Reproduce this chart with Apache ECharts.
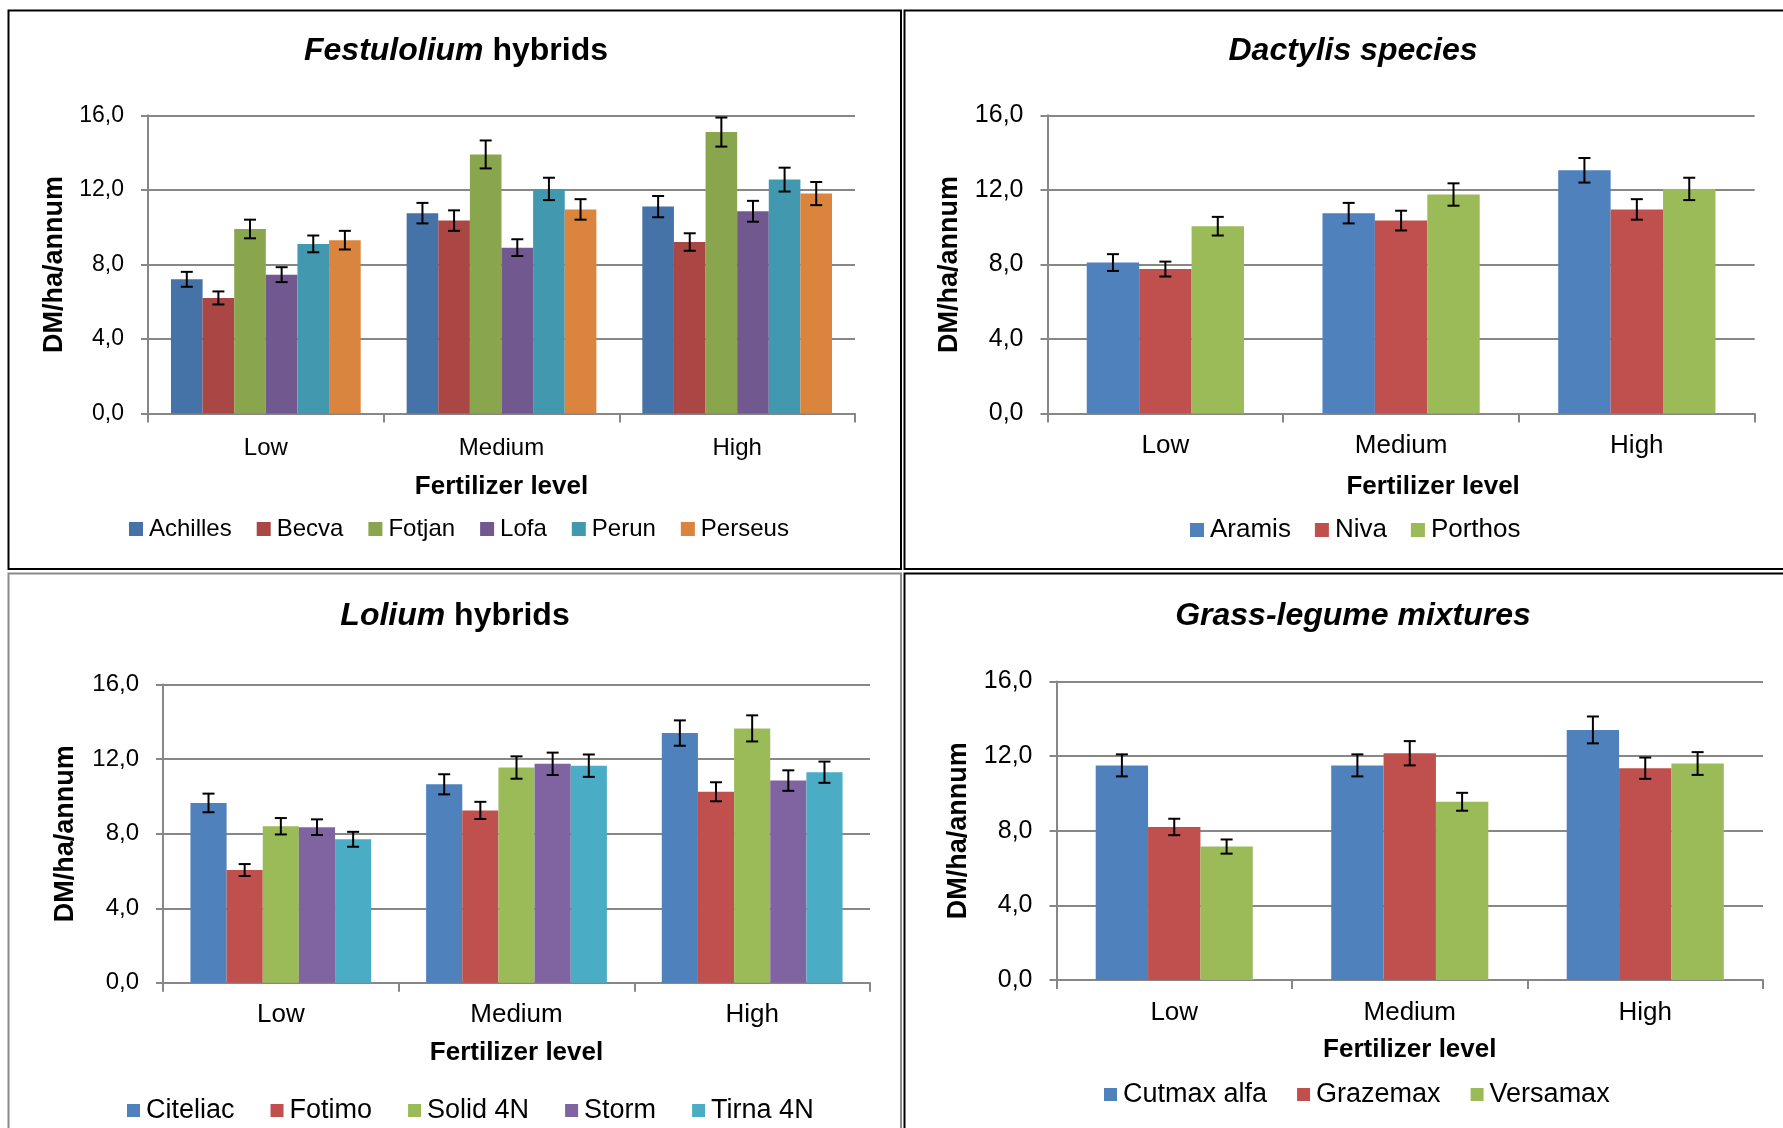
<!DOCTYPE html>
<html>
<head>
<meta charset="utf-8">
<script src="https://cdn.jsdelivr.net/npm/echarts@6/dist/echarts.min.js"></script>
<style>
html,body{margin:0;padding:0;background:#fff;}
#c{width:1783px;height:1128px;}
</style>
</head>
<body>
<div id="c"></div>
<script>
// ---------- DATA ----------
const categories = ['Low', 'Medium', 'High'];
const yTickLabels = ['0,0', '4,0', '8,0', '12,0', '16,0'];

// Festulolium hybrids
const festNames = ['Achilles', 'Becva', 'Fotjan', 'Lofa', 'Perun', 'Perseus'];
const achilles = [7.2, 10.75, 11.1];
const becva = [6.2, 10.35, 9.2];
const fotjan = [9.9, 13.9, 15.1];
const lofa = [7.45, 8.9, 10.85];
const perun = [9.1, 12.05, 12.55];
const perseus = [9.3, 10.95, 11.8];
const achillesErr = [0.4, 0.55, 0.57];
const becvaErr = [0.35, 0.55, 0.47];
const fotjanErr = [0.5, 0.75, 0.78];
const lofaErr = [0.4, 0.45, 0.56];
const perunErr = [0.45, 0.6, 0.64];
const perseusErr = [0.5, 0.55, 0.62];

// Dactylis species
const dactNames = ['Aramis', 'Niva', 'Porthos'];
const aramis = [8.1, 10.75, 13.05];
const niva = [7.75, 10.35, 10.95];
const porthos = [10.05, 11.75, 12.05];
const aramisErr = [0.45, 0.55, 0.66];
const nivaErr = [0.4, 0.53, 0.55];
const porthosErr = [0.5, 0.6, 0.6];

// Lolium hybrids
const lolNames = ['Citeliac', 'Fotimo', 'Solid 4N', 'Storm', 'Tirna 4N'];
const citeliac = [9.65, 10.65, 13.4];
const fotimo = [6.05, 9.25, 10.25];
const solid4n = [8.4, 11.55, 13.65];
const storm = [8.35, 11.75, 10.85];
const tirna4n = [7.7, 11.65, 11.3];
const citeliacErr = [0.5, 0.54, 0.68];
const fotimoErr = [0.32, 0.46, 0.51];
const solid4nErr = [0.44, 0.6, 0.7];
const stormErr = [0.42, 0.6, 0.55];
const tirna4nErr = [0.4, 0.6, 0.57];

// Grass-legume mixtures
const mixNames = ['Cutmax alfa', 'Grazemax', 'Versamax'];
const cutmax = [11.5, 11.5, 13.4];
const grazemax = [8.2, 12.15, 11.35];
const versamax = [7.15, 9.55, 11.6];
const cutmaxErr = [0.59, 0.59, 0.72];
const grazemaxErr = [0.44, 0.65, 0.57];
const versamaxErr = [0.38, 0.48, 0.61];

// ---------- STYLE ----------
const FONT = '"Liberation Sans", Arial, sans-serif';
const GRID_COLOR = '#878787';
const pal1 = ['#4572A7', '#AA4643', '#89A54E', '#71588F', '#4198AF', '#DB843D'];
const pal2 = ['#4F81BD', '#C0504D', '#9BBB59', '#8064A2', '#4BACC6'];

const panels = [
  { title: '{i|Festulolium} hybrids', names: festNames,
    values: [achilles, becva, fotjan, lofa, perun, perseus],
    errs: [achillesErr, becvaErr, fotjanErr, lofaErr, perunErr, perseusErr],
    colors: pal1, gap: 0.195,
    grid: { left: 148, top: 115.3, width: 707, height: 298.2 },
    titleX: 451, titleTop: 30, titleSize: 32, labelSize: 24, labelMargin: 23, nameGap: 60, namePad: 0,
    tickSize: 23, yNameGap: 80,
    legend: { left: 129, top: 517, gap: 25, size: 24, icon: 14 } },
  { title: '{i|Dactylis species}', names: dactNames,
    values: [aramis, niva, porthos],
    errs: [aramisErr, nivaErr, porthosErr],
    colors: pal2, gap: 0.333,
    grid: { left: 1047.5, top: 115.3, width: 707.2, height: 298.2 },
    titleX: 1348, titleTop: 30, titleSize: 32, labelSize: 26, labelMargin: 19, nameGap: 60, namePad: 64,
    tickSize: 25, yNameGap: 84,
    legend: { left: 1190, top: 517, gap: 24, size: 26, icon: 14 } },
  { title: '{i|Lolium} hybrids', names: lolNames,
    values: [citeliac, fotimo, solid4n, storm, tirna4n],
    errs: [citeliacErr, fotimoErr, solid4nErr, stormErr, tirna4nErr],
    colors: pal2, gap: 0.233,
    grid: { left: 163, top: 684.6, width: 707, height: 298.2 },
    titleX: 450, titleTop: 595, titleSize: 32, labelSize: 26, labelMargin: 19, nameGap: 57, namePad: 0,
    tickSize: 24, yNameGap: 84,
    legend: { left: 127, top: 1097, gap: 36, size: 27, icon: 13 } },
  { title: '{i|Grass-legume mixtures}', names: mixNames,
    values: [cutmax, grazemax, versamax],
    errs: [cutmaxErr, grazemaxErr, versamaxErr],
    colors: pal2, gap: 0.333,
    grid: { left: 1056.5, top: 681.4, width: 706.5, height: 298.6 },
    titleX: 1348, titleTop: 595, titleSize: 32, labelSize: 26, labelMargin: 20, nameGap: 57, namePad: 0,
    tickSize: 25, yNameGap: 84,
    legend: { left: 1104, top: 1081, gap: 30, size: 27, icon: 13 } }
];

function errRenderer(i, n, gap) {
  return function (params, api) {
    const idx = api.value(0), v = api.value(1), e = api.value(2);
    const c = api.coord([idx, v]);
    const catW = api.size([1, 0])[0];
    const inner = catW * (1 - gap);
    const bw = inner / n;
    const x = c[0] - inner / 2 + (i + 0.5) * bw;
    const yt = api.coord([idx, v + e])[1];
    const yb = api.coord([idx, v - e])[1];
    const hw = 6;
    const st = { stroke: '#000', lineWidth: 2 };
    return { type: 'group', children: [
      { type: 'line', shape: { x1: x, y1: yt, x2: x, y2: yb }, style: st },
      { type: 'line', shape: { x1: x - hw, y1: yt, x2: x + hw, y2: yt }, style: st },
      { type: 'line', shape: { x1: x - hw, y1: yb, x2: x + hw, y2: yb }, style: st }
    ] };
  };
}

const option = {
  backgroundColor: '#fff',
  animation: false,
  title: [], grid: [], xAxis: [], yAxis: [], legend: [], series: [],
  graphic: [
    { type: 'rect', shape: { x: 8.5, y: 10.5, width: 892.5, height: 558.5 }, style: { fill: 'none', stroke: '#000', lineWidth: 2 } },
    { type: 'rect', shape: { x: 904.5, y: 10.5, width: 900, height: 558.5 }, style: { fill: 'none', stroke: '#000', lineWidth: 2 } },
    { type: 'rect', shape: { x: 8.5, y: 573.5, width: 892.5, height: 600 }, style: { fill: 'none', stroke: '#8a8a8a', lineWidth: 2 } },
    { type: 'rect', shape: { x: 904.5, y: 573.5, width: 900, height: 600 }, style: { fill: 'none', stroke: '#000', lineWidth: 2 } }
  ]
};

panels.forEach((p, g) => {
  option.title.push({
    text: p.title, left: p.titleX, top: p.titleTop, textAlign: 'center',
    textStyle: { fontFamily: FONT, fontSize: p.titleSize, fontWeight: 'bold', color: '#000',
      rich: { i: { fontFamily: FONT, fontSize: p.titleSize, fontWeight: 'bold', fontStyle: 'italic', color: '#000' } } }
  });
  option.grid.push(Object.assign({ containLabel: false }, p.grid));
  option.xAxis.push({
    type: 'category', gridIndex: g, data: categories,
    name: 'Fertilizer level', nameLocation: 'middle', nameGap: p.nameGap,
    nameTextStyle: { fontFamily: FONT, fontSize: 26, fontWeight: 'bold', color: '#000', padding: [0, 0, 0, p.namePad] },
    axisLine: { lineStyle: { color: GRID_COLOR, width: 2 } },
    axisTick: { show: true, length: 9, lineStyle: { color: GRID_COLOR, width: 2 } },
    axisLabel: { fontFamily: FONT, fontSize: p.labelSize, color: '#000', margin: p.labelMargin },
    splitLine: { show: false }
  });
  option.yAxis.push({
    type: 'value', gridIndex: g, min: 0, max: 16, interval: 4,
    name: 'DM/ha/annum', nameLocation: 'middle', nameGap: p.yNameGap,
    nameTextStyle: { fontFamily: FONT, fontSize: 27, fontWeight: 'bold', color: '#000' },
    axisLine: { show: true, lineStyle: { color: GRID_COLOR, width: 2 } },
    axisTick: { show: true, length: 7, lineStyle: { color: GRID_COLOR, width: 2 } },
    axisLabel: { fontFamily: FONT, fontSize: p.tickSize, color: '#000', margin: 24,
      formatter: v => yTickLabels[Math.round(v / 4)] },
    splitLine: { show: true, lineStyle: { color: GRID_COLOR, width: 2 } }
  });
  option.legend.push({
    data: p.names, left: p.legend.left, top: p.legend.top, orient: 'horizontal',
    padding: 0, itemGap: p.legend.gap, itemWidth: p.legend.icon, itemHeight: p.legend.icon,
    icon: 'rect', selectedMode: false,
    textStyle: { fontFamily: FONT, fontSize: p.legend.size, color: '#000', padding: [0, 0, 0, 1] }
  });
  const n = p.names.length;
  p.names.forEach((name, i) => {
    option.series.push({
      type: 'bar', name: name, xAxisIndex: g, yAxisIndex: g,
      data: p.values[i], barGap: '0%', barCategoryGap: (p.gap * 100) + '%',
      itemStyle: { color: p.colors[i] }
    });
  });
  p.names.forEach((name, i) => {
    option.series.push({
      type: 'custom', name: name + ' error', xAxisIndex: g, yAxisIndex: g,
      renderItem: errRenderer(i, n, p.gap), z: 10,
      encode: { x: 0, y: 1 },
      data: categories.map((c, k) => [k, p.values[i][k], p.errs[i][k]])
    });
  });
});

const chart = echarts.init(document.getElementById('c'), null, { renderer: 'canvas' });
chart.setOption(option);
</script>
</body>
</html>
